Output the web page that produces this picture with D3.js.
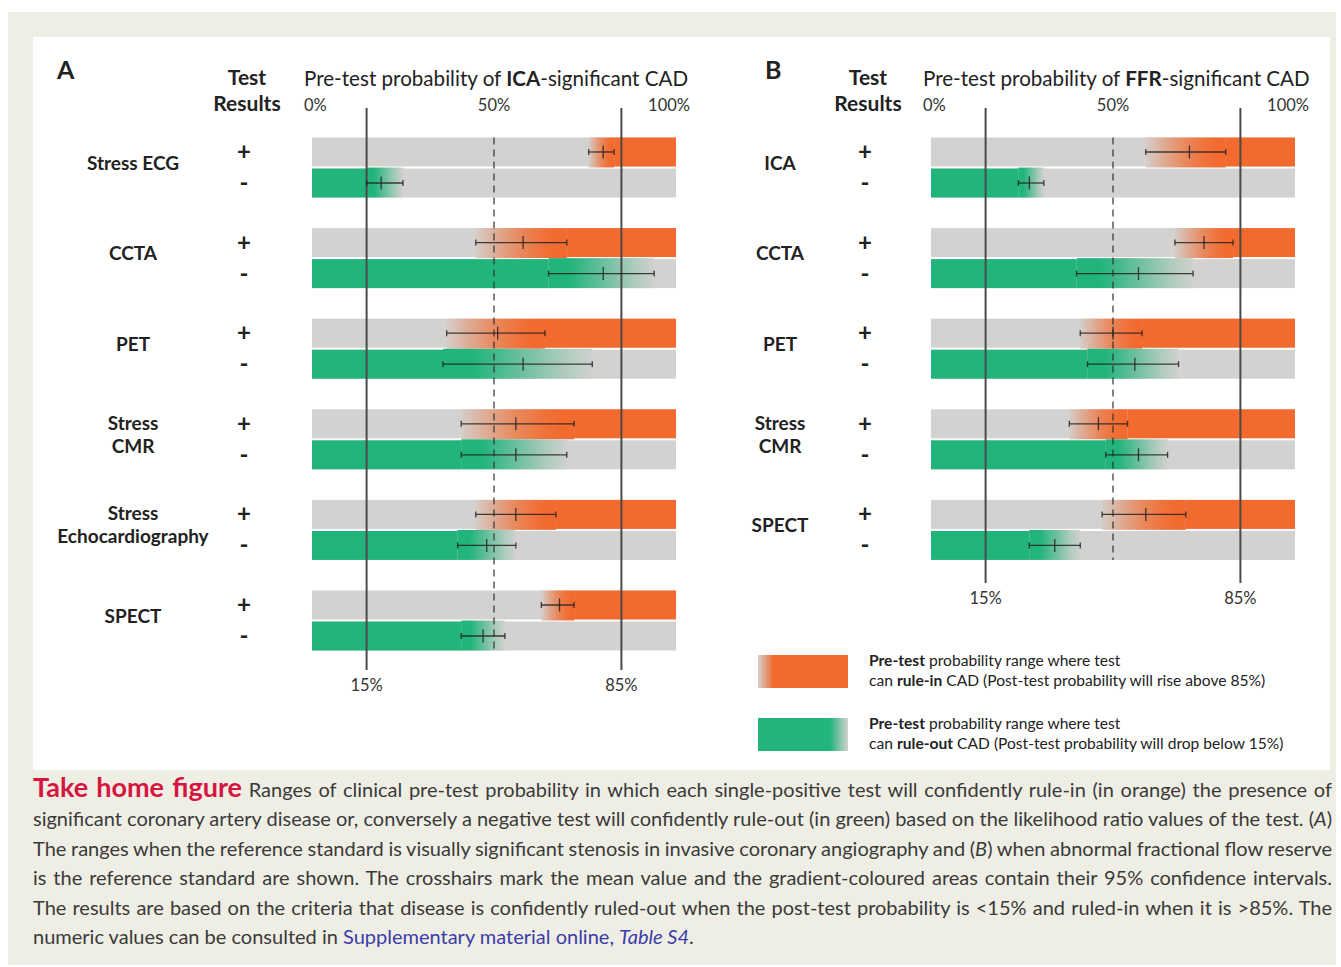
<!DOCTYPE html>
<html>
<head>
<meta charset="utf-8">
<script src="https://cdn.jsdelivr.net/npm/d3@7/dist/d3.min.js"></script>
<style>
  body { margin: 0; background: #fff; }
  svg { display: block; }
</style>
</head>
<body>
<div id="chart"></div>
<script>
// ---- data (pre-test probability, %) ----
const categoriesA = ["Stress ECG", "CCTA", "PET", "Stress\nCMR", "Stress\nEchocardiography", "SPECT"];
const categoriesB = ["ICA", "CCTA", "PET", "Stress\nCMR", "SPECT"];

// positive test -> rule-in range (lower CI, mean, upper CI)
const ruleInLowA  = [76, 45, 37, 41, 45, 63];
const ruleInMeanA = [80, 58, 51, 56, 56, 68];
const ruleInHighA = [83, 70, 64, 72, 67, 72];
// negative test -> rule-out range
const ruleOutLowA  = [15, 65, 36, 41, 40, 41];
const ruleOutMeanA = [19, 80, 58, 56, 48, 47];
const ruleOutHighA = [25, 94, 77, 70, 56, 53];

const ruleInLowB  = [59, 67, 41, 38, 47];
const ruleInMeanB = [71, 75, 50, 46, 59];
const ruleInHighB = [81, 83, 58, 54, 70];
const ruleOutLowB  = [24, 40, 43, 48, 27];
const ruleOutMeanB = [27, 57, 56, 57, 34];
const ruleOutHighB = [31, 72, 68, 65, 41];

const tickValues = [0, 50, 100];
const tickLabels = ["0%", "50%", "100%"];
const thresholdValues = [15, 85];
const thresholdLabels = ["15%", "85%"];

// ---- styles ----
const GREY = "#d3d2d0", ORANGE = "#f26a2e", GREEN = "#21b47b";
const W = 1341, H = 967;
const ROW_TOP = 137.5, ROW_STEP = 90.6, BAR_PAIR = 60;
const FONT = "Lato, 'Open Sans', sans-serif";

const svg = d3.select("#chart").append("svg")
  .attr("width", W).attr("height", H)
  .style("font-family", FONT);

svg.append("rect").attr("width", W).attr("height", H).attr("fill", "#fff");
svg.append("rect").attr("x", 8).attr("y", 12).attr("width", 1328).attr("height", 953).attr("fill", "#efeee4");
svg.append("rect").attr("x", 33).attr("y", 37).attr("width", 1297).attr("height", 733).attr("fill", "#fff");

const defs = svg.append("defs");
function addGradient(id, stops) {
  const lg = defs.append("linearGradient").attr("id", id)
    .attr("x1", 0).attr("x2", 1).attr("y1", 0).attr("y2", 0);
  stops.forEach(s => lg.append("stop").attr("offset", s[0]).attr("stop-color", s[1]));
}
const mixIn = d3.interpolateRgb(GREY, ORANGE);
const mixOut = d3.interpolateRgb(GREY, GREEN);
addGradient("gradIn", [[0, mixIn(0.05)], [0.25, mixIn(0.4)], [0.5, mixIn(0.72)], [0.75, mixIn(0.93)], [0.9, ORANGE], [1, ORANGE]]);
addGradient("gradOut", [[0, GREEN], [0.2, GREEN], [0.5, mixOut(0.62)], [0.8, mixOut(0.22)], [1, mixOut(0.02)]]);
addGradient("legIn", [[0, GREY], [0.17, ORANGE], [1, ORANGE]]);
addGradient("legOut", [[0, GREEN], [0.8, GREEN], [1, GREY]]);

function drawPanel(p) {
  const x = d3.scaleLinear().domain([0, 100]).range(p.xRange);
  const y = d3.scaleBand().domain(p.categories)
    .range([ROW_TOP, ROW_TOP + p.categories.length * ROW_STEP]);
  const sub = d3.scaleBand().domain(["+", "-"]).range([0, BAR_PAIR]).paddingInner(0.067);
  const bh = sub.bandwidth();
  const g = svg.append("g");

  const rows = p.categories.map((c, i) => ({ cat: c, sign: "+", lo: p.inLow[i], mean: p.inMean[i], hi: p.inHigh[i] }))
    .concat(p.categories.map((c, i) => ({ cat: c, sign: "-", lo: p.outLow[i], mean: p.outMean[i], hi: p.outHigh[i] })));
  const top = d => y(d.cat) + sub(d.sign);
  const mid = d => top(d) + bh / 2;

  // grey full-range bars
  g.selectAll("rect.bg").data(rows).join("rect").attr("class", "bg")
    .attr("x", x(0)).attr("y", top)
    .attr("width", x(100) - x(0)).attr("height", bh)
    .attr("fill", GREY);

  // solid coloured parts
  g.selectAll("rect.solid").data(rows).join("rect").attr("class", "solid")
    .attr("x", d => d.sign === "+" ? x(d.hi) : x(0))
    .attr("y", top)
    .attr("width", d => d.sign === "+" ? x(100) - x(d.hi) : x(d.lo) - x(0))
    .attr("height", bh)
    .attr("fill", d => d.sign === "+" ? ORANGE : GREEN);

  // gradient over the confidence interval
  g.selectAll("rect.grad").data(rows).join("rect").attr("class", "grad")
    .attr("x", d => x(d.lo))
    .attr("y", d => top(d) - (d.sign === "-" ? 1 : 0))
    .attr("width", d => x(d.hi) - x(d.lo))
    .attr("height", bh + 1)
    .attr("fill", d => d.sign === "+" ? "url(#gradIn)" : "url(#gradOut)");

  // reference lines
  const lastBottom = y(p.categories[p.categories.length - 1]) + BAR_PAIR;
  g.append("line")
    .attr("x1", x(50)).attr("x2", x(50))
    .attr("y1", ROW_TOP).attr("y2", lastBottom)
    .attr("stroke", "#333").attr("stroke-width", 1.2).attr("stroke-dasharray", "7,5");
  g.selectAll("line.thr").data(thresholdValues).join("line").attr("class", "thr")
    .attr("x1", d => x(d)).attr("x2", d => x(d))
    .attr("y1", 108).attr("y2", p.lineBottom)
    .attr("stroke", "#4a4a4a").attr("stroke-width", 2);
  g.selectAll("text.thr").data(thresholdValues).join("text").attr("class", "thr")
    .attr("x", d => x(d)).attr("y", p.lineBottom + 21)
    .attr("text-anchor", "middle").attr("font-size", 16.5).attr("fill", "#333")
    .text((d, i) => thresholdLabels[i]);

  // crosshairs
  const eb = g.selectAll("g.eb").data(rows).join("g").attr("class", "eb")
    .attr("stroke", "#222").attr("stroke-width", 1.3).attr("stroke-opacity", 0.85);
  eb.append("line").attr("x1", d => x(d.lo)).attr("x2", d => x(d.hi)).attr("y1", mid).attr("y2", mid);
  eb.append("line").attr("x1", d => x(d.lo)).attr("x2", d => x(d.lo)).attr("y1", d => mid(d) - 3).attr("y2", d => mid(d) + 3);
  eb.append("line").attr("x1", d => x(d.hi)).attr("x2", d => x(d.hi)).attr("y1", d => mid(d) - 3).attr("y2", d => mid(d) + 3);
  eb.append("line").attr("x1", d => x(d.mean)).attr("x2", d => x(d.mean)).attr("y1", d => mid(d) - 6.5).attr("y2", d => mid(d) + 6.5);

  // +/- signs
  g.selectAll("text.sign").data(rows).join("text").attr("class", "sign")
    .attr("x", p.signX).attr("y", d => mid(d) + 8)
    .attr("text-anchor", "middle").attr("font-size", 24).attr("font-weight", 700).attr("fill", "#222")
    .text(d => d.sign);

  // test names
  g.selectAll("text.cat").data(p.categories).join("text").attr("class", "cat")
    .attr("text-anchor", "middle").attr("font-size", 19).attr("font-weight", 700).attr("fill", "#222")
    .each(function (c) {
      const lines = c.split("\n");
      const cy = y(c) + BAR_PAIR / 2 - 5;
      d3.select(this).selectAll("tspan").data(lines).join("tspan")
        .attr("x", p.labelX)
        .attr("y", (l, i) => cy + (i - (lines.length - 1) / 2) * 23 + 7)
        .text(l => l);
    });

  // header
  g.append("text").attr("x", p.letterX).attr("y", 79)
    .attr("font-size", 25).attr("font-weight", 700).attr("fill", "#222").text(p.letter);
  g.append("text").attr("x", p.testX).attr("y", 85).attr("text-anchor", "middle")
    .attr("font-size", 21).attr("font-weight", 700).attr("fill", "#222").text("Test");
  g.append("text").attr("x", p.testX).attr("y", 111).attr("text-anchor", "middle")
    .attr("font-size", 21).attr("font-weight", 700).attr("fill", "#222").text("Results");
  const title = g.append("text").attr("x", x(0) - 8).attr("y", 86)
    .attr("font-size", 20.6).attr("fill", "#222");
  title.append("tspan").text("Pre-test probability of ");
  title.append("tspan").attr("font-weight", 700).text(p.reference);
  title.append("tspan").text("-significant CAD");

  const anchors = ["start", "middle", "end"], offs = [-8, 0, 14];
  g.selectAll("text.tick").data(tickValues).join("text").attr("class", "tick")
    .attr("x", (d, i) => x(d) + offs[i]).attr("y", 111)
    .attr("text-anchor", (d, i) => anchors[i])
    .attr("font-size", 16.5).attr("fill", "#333")
    .text((d, i) => tickLabels[i]);
}

drawPanel({
  categories: categoriesA, xRange: [312, 676], letter: "A", reference: "ICA",
  inLow: ruleInLowA, inMean: ruleInMeanA, inHigh: ruleInHighA,
  outLow: ruleOutLowA, outMean: ruleOutMeanA, outHigh: ruleOutHighA,
  letterX: 57, testX: 247, labelX: 133, signX: 244, lineBottom: 670
});
drawPanel({
  categories: categoriesB, xRange: [931, 1295], letter: "B", reference: "FFR",
  inLow: ruleInLowB, inMean: ruleInMeanB, inHigh: ruleInHighB,
  outLow: ruleOutLowB, outMean: ruleOutMeanB, outHigh: ruleOutHighB,
  letterX: 765, testX: 868, labelX: 780, signX: 865, lineBottom: 583
});

// legend
const legend = [
  { fill: "url(#legIn)", y: 655, word: "rule-in", tail: " CAD (Post-test probability will rise above 85%)" },
  { fill: "url(#legOut)", y: 718, word: "rule-out", tail: " CAD (Post-test probability will drop below 15%)" }
];
legend.forEach(l => {
  svg.append("rect").attr("x", 758).attr("y", l.y).attr("width", 90).attr("height", 33).attr("fill", l.fill);
  const t1 = svg.append("text").attr("x", 869).attr("y", l.y + 11).attr("font-size", 15.6).attr("fill", "#222");
  t1.append("tspan").attr("font-weight", 700).text("Pre-test");
  t1.append("tspan").text(" probability range where test");
  const t2 = svg.append("text").attr("x", 869).attr("y", l.y + 31).attr("font-size", 15.6).attr("fill", "#222");
  t2.append("tspan").text("can ");
  t2.append("tspan").attr("font-weight", 700).text(l.word);
  t2.append("tspan").text(l.tail);
});

// caption
const captionLines = [
  [{ t: "Take home figure", s: "head" }, { t: " Ranges of clinical pre-test probability in which each single-positive test will confidently rule-in (in orange) the presence of" }],
  [{ t: "significant coronary artery disease or, conversely a negative test will confidently rule-out (in green) based on the likelihood ratio values of the test. (" }, { t: "A", s: "it" }, { t: ")" }],
  [{ t: "The ranges when the reference standard is visually significant stenosis in invasive coronary angiography and (" }, { t: "B", s: "it" }, { t: ") when abnormal fractional flow reserve" }],
  [{ t: "is the reference standard are shown. The crosshairs mark the mean value and the gradient-coloured areas contain their 95% confidence intervals." }],
  [{ t: "The results are based on the criteria that disease is confidently ruled-out when the post-test probability is <15% and ruled-in when it is >85%. The" }],
  [{ t: "numeric values can be consulted in " }, { t: "Supplementary material online, ", s: "link" }, { t: "Table S4", s: "linkit" }, { t: "." }]
];

document.fonts.ready.then(() => {
  captionLines.forEach((segs, i) => {
    const t = svg.append("text").attr("x", 33).attr("y", 797 + i * 29.4)
      .attr("font-size", 20).attr("fill", "#3a3a3a");
    segs.forEach(s => {
      const ts = t.append("tspan").text(s.t);
      if (s.s === "head") ts.attr("font-size", 27).attr("font-weight", 700).attr("fill", "#d5153f");
      if (s.s === "it") ts.attr("font-style", "italic");
      if (s.s === "link") ts.attr("fill", "#3c3ca8");
      if (s.s === "linkit") ts.attr("fill", "#3c3ca8").attr("font-style", "italic");
    });
    if (i < captionLines.length - 1) {
      const full = segs.map(s => s.t).join("");
      const spaces = (full.match(/ /g) || []).length;
      const natural = t.node().getComputedTextLength();
      t.attr("word-spacing", (1299 - natural) / spaces);
    }
  });
});
</script>
</body>
</html>
